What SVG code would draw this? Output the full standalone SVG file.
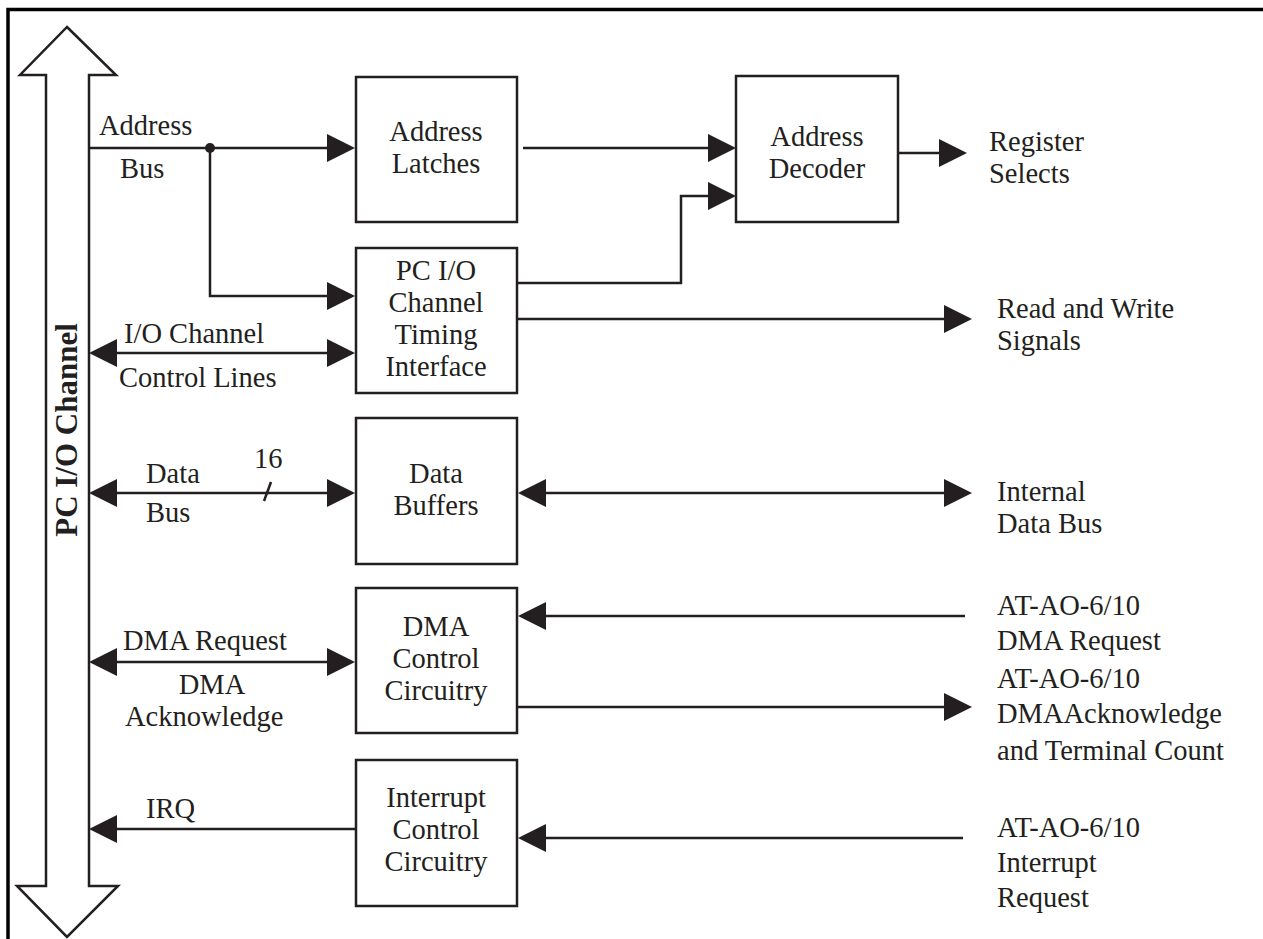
<svg xmlns="http://www.w3.org/2000/svg" width="1263" height="939" viewBox="0 0 1263 939">
<style>
.t{font-family:"Liberation Serif","Times New Roman",serif;font-size:28.5px;fill:#231f20}
.c{text-anchor:middle}
.b{font-weight:bold;font-size:31px}
.box{fill:#fff;stroke:#231f20;stroke-width:2.5}
.ln{fill:none;stroke:#231f20;stroke-width:2.5}
</style>
<defs>
<marker id="ah" viewBox="0 0 28 28" refX="18" refY="14" markerWidth="28" markerHeight="28" markerUnits="userSpaceOnUse" orient="auto-start-reverse">
<path d="M0,0 L28,14 L0,28 z" fill="#231f20"/>
</marker>
</defs>
<rect width="1263" height="939" fill="#fff"/>
<g id="frame">
<path d="M8,939 V9.5 H1263" fill="none" stroke="#000" stroke-width="3.5"/>
</g>
<g id="pc-io-channel">
<path d="M67,27 L116,75 H89 V886 H118 L67,937 L17,886 H46 V75 H20 Z" fill="#fff" stroke="#231f20" stroke-width="2.5" stroke-linejoin="miter"/>
<text class="t b c" transform="translate(77,430) rotate(-90)">PC I/O Channel</text>
</g>
<g id="connectors">
<line class="ln" x1="89" y1="148" x2="345" y2="148" marker-end="url(#ah)"/>
<circle cx="210" cy="148" r="5" fill="#231f20"/>
<polyline class="ln" points="210,148 210,296 345,296" marker-end="url(#ah)"/>
<line class="ln" x1="523" y1="148" x2="726" y2="148" marker-end="url(#ah)"/>
<polyline class="ln" points="517,283 681,283 681,196 726,196" marker-end="url(#ah)"/>
<line class="ln" x1="517" y1="319" x2="962" y2="319" marker-end="url(#ah)"/>
<line class="ln" x1="898" y1="153" x2="957" y2="153" marker-end="url(#ah)"/>
<line class="ln" x1="99" y1="353" x2="345" y2="353" marker-start="url(#ah)" marker-end="url(#ah)"/>
<line class="ln" x1="99" y1="493" x2="345" y2="493" marker-start="url(#ah)" marker-end="url(#ah)"/>
<line class="ln" x1="264" y1="501" x2="271" y2="482"/>
<line class="ln" x1="528" y1="493" x2="962" y2="493" marker-start="url(#ah)" marker-end="url(#ah)"/>
<line class="ln" x1="99" y1="662" x2="345" y2="662" marker-start="url(#ah)" marker-end="url(#ah)"/>
<line class="ln" x1="965" y1="616" x2="528" y2="616" marker-end="url(#ah)"/>
<line class="ln" x1="517" y1="707" x2="962" y2="707" marker-end="url(#ah)"/>
<line class="ln" x1="356" y1="829" x2="99" y2="829" marker-end="url(#ah)"/>
<line class="ln" x1="963" y1="838" x2="528" y2="838" marker-end="url(#ah)"/>
</g>
<g id="address-latches">
<rect class="box" x="356" y="77" width="161" height="145"/>
<text class="t c" x="436" y="141">Address</text>
<text class="t c" x="436" y="173">Latches</text>
</g>
<g id="address-decoder">
<rect class="box" x="736" y="76" width="162" height="146"/>
<text class="t c" x="817" y="146">Address</text>
<text class="t c" x="817" y="178">Decoder</text>
</g>
<g id="timing-interface">
<rect class="box" x="356" y="248" width="161" height="145"/>
<text class="t c" x="436" y="280">PC I/O</text>
<text class="t c" x="436" y="312">Channel</text>
<text class="t c" x="436" y="344">Timing</text>
<text class="t c" x="436" y="376">Interface</text>
</g>
<g id="data-buffers">
<rect class="box" x="356" y="418" width="161" height="146"/>
<text class="t c" x="436" y="483">Data</text>
<text class="t c" x="436" y="515">Buffers</text>
</g>
<g id="dma-control">
<rect class="box" x="356" y="588" width="161" height="145"/>
<text class="t c" x="436" y="636">DMA</text>
<text class="t c" x="436" y="668">Control</text>
<text class="t c" x="436" y="700">Circuitry</text>
</g>
<g id="interrupt-control">
<rect class="box" x="356" y="760" width="161" height="146"/>
<text class="t c" x="436" y="807">Interrupt</text>
<text class="t c" x="436" y="839">Control</text>
<text class="t c" x="436" y="871">Circuitry</text>
</g>
<g id="labels">
<text class="t" x="99" y="135">Address</text>
<text class="t" x="120" y="178">Bus</text>
<text class="t" x="124" y="343">I/O Channel</text>
<text class="t" x="119" y="387">Control Lines</text>
<text class="t" x="146" y="483">Data</text>
<text class="t" x="146" y="522">Bus</text>
<text class="t" x="254" y="468">16</text>
<text class="t" x="123" y="650">DMA Request</text>
<text class="t c" x="212" y="694">DMA</text>
<text class="t" x="125" y="726">Acknowledge</text>
<text class="t" x="146" y="818">IRQ</text>
<text class="t" x="989" y="151">Register</text>
<text class="t" x="989" y="183">Selects</text>
<text class="t" x="997" y="318">Read and Write</text>
<text class="t" x="997" y="350">Signals</text>
<text class="t" x="997" y="501">Internal</text>
<text class="t" x="997" y="533">Data Bus</text>
<text class="t" x="997" y="615">AT-AO-6/10</text>
<text class="t" x="997" y="650">DMA Request</text>
<text class="t" x="997" y="688">AT-AO-6/10</text>
<text class="t" x="997" y="723">DMAAcknowledge</text>
<text class="t" x="997" y="760">and Terminal Count</text>
<text class="t" x="997" y="837">AT-AO-6/10</text>
<text class="t" x="997" y="872">Interrupt</text>
<text class="t" x="997" y="907">Request</text>
</g>
</svg>
